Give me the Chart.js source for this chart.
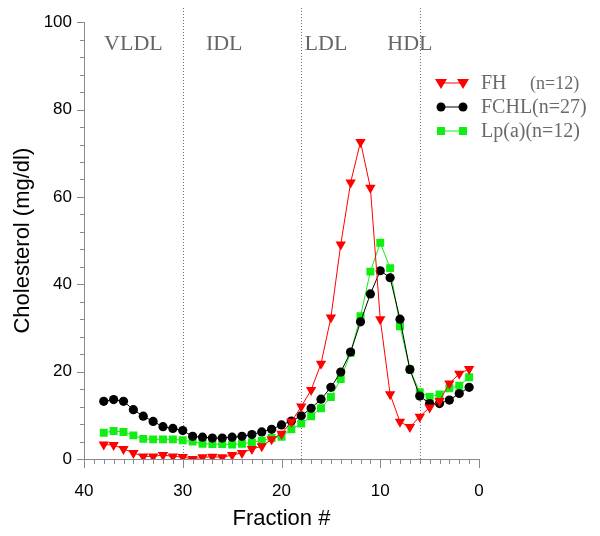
<!DOCTYPE html>
<html><head><meta charset="utf-8">
<script src="https://cdn.jsdelivr.net/npm/chart.js@4.4.1/dist/chart.umd.min.js"></script>
<style>html,body{margin:0;padding:0;background:#fff}#wrap{width:600px;height:536px;position:relative}</style>
</head><body><div id="wrap"><canvas id="c"></canvas></div>
<script>
// ---- data (fraction number, high to low) ----
const fractions = [38,37,36,35,34,33,32,31,30,29,28,27,26,25,24,23,22,21,20,19,18,17,16,15,14,13,12,11,10,9,8,7,6,5,4,3,2,1];
const fhValues   = [3.3,3.2,2.3,1.4,0.6,0.6,0.9,0.6,0.45,0.0,0.4,0.5,0.4,0.9,1.4,2.3,2.9,4.5,5.8,8.5,12.0,15.8,21.8,32.4,49.1,63.3,72.6,62.1,32.0,14.8,8.5,7.3,9.7,11.8,13.3,17.3,19.5,20.6];
const fchlValues = [13.2,13.6,13.2,11.3,9.8,8.6,7.4,7.0,6.5,5.2,5.0,4.8,4.8,5.0,5.2,5.6,6.2,6.8,7.8,8.7,9.9,11.6,13.7,16.4,19.9,24.5,31.4,37.8,43.1,41.5,32.0,20.5,14.4,12.7,12.7,13.5,15.0,16.4];
const lpaValues  = [6.0,6.4,6.2,5.4,4.6,4.5,4.5,4.5,4.3,4.0,3.5,3.4,3.4,3.3,3.5,3.8,4.2,4.8,5.1,6.8,8.1,9.8,11.6,14.2,18.3,24.3,32.7,42.9,49.5,43.7,30.4,20.5,15.3,14.2,14.8,16.2,16.8,18.7];
const seriesNames = ['FH', 'FCHL', 'Lp(a)'];
const seriesNotes = ['(n=12)', '(n=27)', '(n=12)'];
const xTickValues = [40, 30, 20, 10, 0];
const yTickValues = [0, 20, 40, 60, 80, 100];
const regionNames = ['VLDL', 'IDL', 'LDL', 'HDL'];
const regionCenters = [35.0, 25.8, 15.5, 7.0];
const regionBounds = [30, 18, 6];

const toPts = vals => fractions.map((f, i) => ({x: f, y: vals[i]}));

const RED = '#ff0000', BLACK = '#000000', GREEN = '#11ee11';
const AX = '#8a8a8a';

const extras = {
  id: 'extras',
  beforeDatasetsDraw(chart) {
    const {ctx, chartArea: a, scales: {x, y}} = chart;
    ctx.save();
    ctx.strokeStyle = '#707070';
    ctx.lineWidth = 1;
    ctx.setLineDash([1, 2]);
    regionBounds.forEach(b => {
      const px = Math.round(x.getPixelForValue(b)) + 0.5;
      ctx.beginPath(); ctx.moveTo(px, 8); ctx.lineTo(px, a.bottom); ctx.stroke();
    });
    ctx.setLineDash([]);
    ctx.fillStyle = '#666';
    ctx.font = '22px "Liberation Serif"';
    ctx.textAlign = 'center';
    ctx.textBaseline = 'alphabetic';
    regionNames.forEach((n, i) => ctx.fillText(n, x.getPixelForValue(regionCenters[i]), 50));
    ctx.restore();
  },
  afterDraw(chart) {
    const {ctx, chartArea: a, scales: {x, y}} = chart;
    ctx.save();
    ctx.strokeStyle = AX; ctx.lineWidth = 1;
    for (let v = 0; v <= 40; v++) {
      const px = Math.round(x.getPixelForValue(v)) + 0.5;
      const len = v % 10 === 0 ? 9 : 5;
      ctx.beginPath(); ctx.moveTo(px, a.bottom); ctx.lineTo(px, a.bottom + len); ctx.stroke();
    }
    for (let v = 0; v <= 100; v += 4) {
      const py = Math.round(y.getPixelForValue(v)) + 0.5;
      const len = v % 20 === 0 ? 7 : 4;
      ctx.beginPath(); ctx.moveTo(a.left, py); ctx.lineTo(a.left - len, py); ctx.stroke();
    }
    // legend
    const rows = [83, 107, 131];
    const x1 = 441, x2 = 463;
    const cols = [RED, BLACK, GREEN];
    rows.forEach((ry, i) => {
      ctx.strokeStyle = cols[i]; ctx.lineWidth = 1;
      ctx.beginPath(); ctx.moveTo(x1, ry); ctx.lineTo(x2, ry); ctx.stroke();
      ctx.fillStyle = cols[i];
      [x1, x2].forEach(mx => {
        ctx.beginPath();
        if (i === 0) {
          ctx.moveTo(mx - 6, ry - 4); ctx.lineTo(mx + 6, ry - 4); ctx.lineTo(mx, ry + 6); ctx.closePath();
        } else if (i === 1) {
          ctx.arc(mx, ry, 4.5, 0, Math.PI * 2);
        } else {
          ctx.rect(mx - 4, ry - 4, 8, 8);
        }
        ctx.fill();
      });
      ctx.fillStyle = '#6a6a6a';
      ctx.font = '20px "Liberation Serif"';
      ctx.textAlign = 'left'; ctx.textBaseline = 'middle';
      ctx.fillText(seriesNames[i], 481, ry + 1);
      if (i === 0) {
        ctx.font = '18px "Liberation Serif"';
        ctx.fillText(seriesNotes[i], 530, ry + 1);
      } else {
        const w = ctx.measureText(seriesNames[i]).width;
        ctx.fillText(seriesNotes[i], 481 + w, ry + 1);
      }
    });
    ctx.restore();
  }
};

new Chart(document.getElementById('c'), {
  type: 'line',
  data: {
    datasets: [
      {label: seriesNames[0], data: toPts(fhValues), borderColor: RED, backgroundColor: RED, borderWidth: 1,
       pointStyle: 'triangle', rotation: 180, pointRadius: 6, pointBorderWidth: 0, pointBackgroundColor: RED},
      {label: seriesNames[1], data: toPts(fchlValues), borderColor: BLACK, backgroundColor: BLACK, borderWidth: 1,
       pointStyle: 'circle', pointRadius: 4.6, pointBorderWidth: 0, pointBackgroundColor: BLACK},
      {label: seriesNames[2], data: toPts(lpaValues), borderColor: GREEN, backgroundColor: GREEN, borderWidth: 1,
       pointStyle: 'rect', pointRadius: 5.6, pointBorderWidth: 0, pointBackgroundColor: GREEN}
    ]
  },
  options: {
    responsive: true, maintainAspectRatio: false, animation: false,
    layout: {padding: {top: 17, right: 121, left: 0, bottom: 0}},
    plugins: {legend: {display: false}, tooltip: {enabled: false}},
    elements: {line: {tension: 0}},
    scales: {
      x: {
        type: 'linear', reverse: true, min: 0, max: 40,
        afterFit: s => { s.height = 77; },
        afterBuildTicks: s => { s.ticks = xTickValues.map(v => ({value: v})); },
        ticks: {color: '#000', font: {family: '"Liberation Sans", Arial', size: 17}, padding: 22, maxRotation: 0},
        grid: {display: false, drawTicks: false},
        border: {display: true, color: AX, width: 1},
        title: {display: true, text: 'Fraction #', color: '#000', font: {family: '"Liberation Sans", Arial', size: 22}, padding: {top: 0, bottom: 4}}
      },
      y: {
        min: 0, max: 100,
        afterFit: s => { s.width = 84; },
        afterBuildTicks: s => { s.ticks = yTickValues.map(v => ({value: v})); },
        ticks: {color: '#000', font: {family: '"Liberation Sans", Arial', size: 17}, padding: 12},
        grid: {display: false, drawTicks: false},
        border: {display: true, color: AX, width: 1},
        title: {display: true, text: 'Cholesterol (mg/dl)', color: '#000', font: {family: '"Liberation Sans", Arial', size: 22}, padding: {top: 10, bottom: 0}}
      }
    }
  },
  plugins: [extras]
});
</script></body></html>
